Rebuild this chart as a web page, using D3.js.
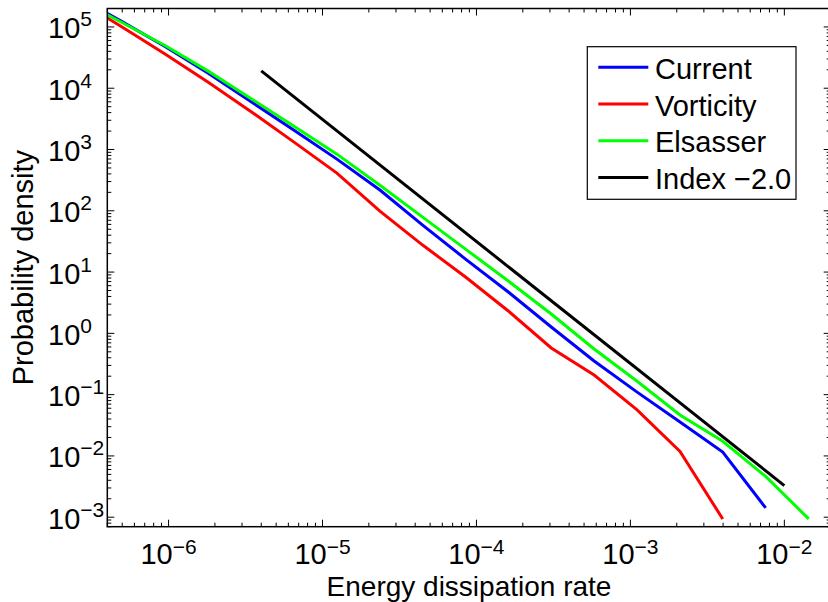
<!DOCTYPE html>
<html>
<head>
<meta charset="utf-8">
<script src="https://cdn.jsdelivr.net/npm/d3@7.9.0/dist/d3.min.js"></script>
<style>
  body { margin: 0; background: #fff; }
  svg text { font-family: "Liberation Sans", Arial, sans-serif; fill: #000; }
</style>
</head>
<body>
<svg id="chart" width="828" height="602"></svg>
<script>
// Energy bins (log spaced) and PDF values
const energy = [2.65e-7, 5.02e-7, 9.54e-7, 1.81e-6, 3.44e-6, 6.53e-6, 1.24e-5, 2.36e-5, 4.47e-5,
                8.49e-5, 1.61e-4, 3.06e-4, 5.81e-4, 1.10e-3, 2.10e-3, 3.98e-3, 7.56e-3, 1.44e-2];
const current = [2.98e5, 1.21e5, 4.75e4, 1.76e4, 6.03e3, 2.07e3, 697, 218, 58.5, 16.3, 4.73, 1.27,
                 0.354, 0.111, 0.0359, 0.0116, 1.42e-3];
const vorticity = [2.65e5, 9.89e4, 3.59e4, 1.25e4, 4.14e3, 1.32e3, 412, 98.9, 27.6, 8.3, 2.32, 0.577,
                   0.209, 0.0569, 0.0118, 9.35e-4];
const elsasser = [2.72e5, 1.17e5, 4.93e4, 1.90e4, 6.75e3, 2.40e3, 840, 262, 78.9, 23.7, 7.14, 2.07,
                  0.556, 0.167, 0.0467, 0.0173, 4.63e-3, 9.4e-4];
const indexX = [4e-6, 1e-2];
const indexY = [1.92e4, 3.28e-3];

const xMajor = [1e-6, 1e-5, 1e-4, 1e-3, 1e-2];
const xExp = ['\u22126', '\u22125', '\u22124', '\u22123', '\u22122'];
const yMajor = [1e5, 1e4, 1e3, 1e2, 1e1, 1e0, 1e-1, 1e-2, 1e-3];
const yExp = ['5', '4', '3', '2', '1', '0', '\u22121', '\u22122', '\u22123'];

const seriesNames = ['Current', 'Vorticity', 'Elsasser', 'Index \u22122.0'];
const seriesColors = ['#0000ff', '#ff0000', '#00ff00', '#000000'];

const axLeft = 107.3, axRight = 830.7, axTop = 8.5, axBottom = 526.7;

const svg = d3.select('#chart');

const x = d3.scaleLog().domain([4e-7, 2e-2]).range([axLeft, axRight]);
const y = d3.scaleLog().domain([7e-4, 2e5]).range([axBottom, axTop]);

// clip to the axes box
svg.append('clipPath').attr('id', 'plotclip')
    .append('rect')
    .attr('x', axLeft).attr('y', axTop)
    .attr('width', axRight - axLeft).attr('height', axBottom - axTop);

const line = d3.line()
    .x(d => x(d[0]))
    .y(d => y(d[1]));

const plot = svg.append('g').attr('clip-path', 'url(#plotclip)');

const curves = [
    d3.zip(energy, current),
    d3.zip(energy, vorticity),
    d3.zip(energy, elsasser),
    d3.zip(indexX, indexY),
];

curves.forEach((pts, i) => {
    plot.append('path')
        .datum(pts)
        .attr('d', line)
        .attr('fill', 'none')
        .attr('stroke', seriesColors[i])
        .attr('stroke-width', 3)
        .attr('stroke-linejoin', 'miter');
});

// minor ticks: 2..9 of each decade within the domain
const xMinor = x.ticks().filter(v => !xMajor.some(m => Math.abs(m - v) / m < 1e-6));
const yMinor = y.ticks().filter(v => !yMajor.some(m => Math.abs(m - v) / m < 1e-6));

const ticks = svg.append('g').attr('stroke', '#000').attr('stroke-width', 1);
const majorLen = 7, minorLen = 4;

function xTick(v, len) {
    const px = x(v);
    ticks.append('line').attr('x1', px).attr('x2', px).attr('y1', axBottom).attr('y2', axBottom - len);
    ticks.append('line').attr('x1', px).attr('x2', px).attr('y1', axTop).attr('y2', axTop + len);
}
function yTick(v, len) {
    const py = y(v);
    ticks.append('line').attr('y1', py).attr('y2', py).attr('x1', axLeft).attr('x2', axLeft + len);
    ticks.append('line').attr('y1', py).attr('y2', py).attr('x1', axRight).attr('x2', axRight - len);
}
xMinor.forEach(v => xTick(v, minorLen));
xMajor.forEach(v => xTick(v, majorLen));
yMinor.forEach(v => yTick(v, minorLen));
yMajor.forEach(v => yTick(v, majorLen));

// axes box
svg.append('rect')
    .attr('x', axLeft).attr('y', axTop)
    .attr('width', axRight - axLeft).attr('height', axBottom - axTop)
    .attr('fill', 'none')
    .attr('stroke', '#000')
    .attr('stroke-width', 1.5);

// x tick labels 10^n
xMajor.forEach((v, i) => {
    const t = svg.append('text')
        .attr('x', x(v))
        .attr('y', 564)
        .attr('text-anchor', 'middle')
        .attr('font-size', 29);
    t.append('tspan').text('10');
    t.append('tspan').attr('font-size', 21).attr('dy', -10).text(xExp[i]);
});

// y tick labels 10^n, left aligned like the MATLAB figure
yMajor.forEach((v, i) => {
    const py = y(v);
    const t = svg.append('text')
        .attr('x', 48)
        .attr('y', py + 11.5)
        .attr('font-size', 29);
    t.append('tspan').text('10');
    t.append('tspan').attr('font-size', 21).attr('dy', -12).text(yExp[i]);
});

// axis titles
svg.append('text')
    .attr('x', (axLeft + axRight) / 2)
    .attr('y', 596)
    .attr('text-anchor', 'middle')
    .attr('font-size', 28)
    .text('Energy dissipation rate');

svg.append('text')
    .attr('transform', `translate(33,${(axTop + axBottom) / 2}) rotate(-90)`)
    .attr('text-anchor', 'middle')
    .attr('font-size', 29)
    .text('Probability density');

// legend
const legend = svg.append('g');
legend.append('rect')
    .attr('x', 587.3).attr('y', 46.7)
    .attr('width', 208.7).attr('height', 152.6)
    .attr('fill', '#fff')
    .attr('stroke', '#000')
    .attr('stroke-width', 1.2);

seriesNames.forEach((name, i) => {
    const ly = 67.3 + i * 36.7;
    legend.append('line')
        .attr('x1', 598.3).attr('x2', 648.3)
        .attr('y1', ly).attr('y2', ly)
        .attr('stroke', seriesColors[i])
        .attr('stroke-width', 3);
    legend.append('text')
        .attr('x', 655)
        .attr('y', ly + 11.5)
        .attr('font-size', 29)
        .text(name);
});
</script>
</body>
</html>
